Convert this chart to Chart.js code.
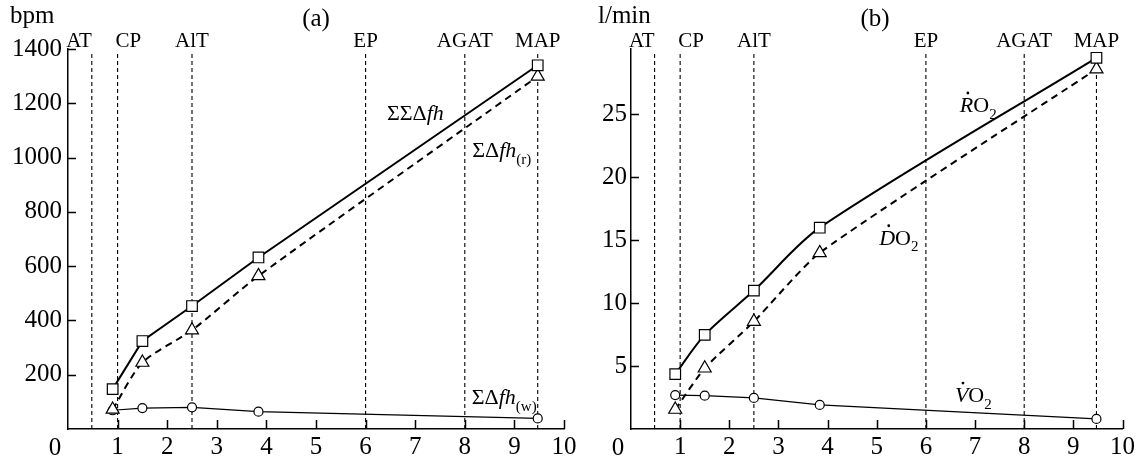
<!DOCTYPE html>
<html>
<head>
<meta charset="utf-8">
<script src="https://cdn.jsdelivr.net/npm/chart.js@4.4.1/dist/chart.umd.min.js"></script>
<style>
  body { margin: 0; background: #fff; }
  #wrap { position: relative; width: 1138px; height: 461px; overflow: hidden; }
  canvas { position: absolute; top: 0; }
  #chartA { left: 0; }
  #chartB { left: 569px; }
</style>
</head>
<body>
<div id="wrap">
  <canvas id="chartA" width="600" height="461"></canvas>
  <canvas id="chartB" width="569" height="461"></canvas>
</div>
<script>
// power steps (x) shared by both panels
const power = [0.9, 1.5, 2.5, 3.84, 9.47];

// (a) heart-beat sums, bpm
const hrTotal = [147, 324, 453, 632, 1340];
const hrRest = [72, 245, 364, 564, 1299];
const hrWork = [69, 77, 80, 64, 39];

// (b) oxygen flows, l/min
const o2Total = [4.36, 7.48, 11.0, 16.0, 29.5];
const o2Delivered = [1.55, 4.83, 8.54, 14.0, 28.6];
const o2Consumed = [2.7, 2.65, 2.47, 1.91, 0.8];

// threshold markers
const thresholds = [0.48, 1, 2.5, 6, 8, 9.47];
const thresholdNames = ["AT", "CP", "AlT", "EP", "AGAT", "MAP"];

// tick labels
const xTicks = [0, 1, 2, 3, 4, 5, 6, 7, 8, 9, 10];
const hrTicks = [200, 400, 600, 800, 1000, 1200, 1400];
const o2Ticks = [5, 10, 15, 20, 25];

const SERIF = '"Liberation Serif", "Times New Roman", serif';
Chart.defaults.font.family = SERIF;

function pts(ys) {
  return power.map((x, i) => ({ x, y: ys[i] }));
}

function series(ys, shape, radius, extra) {
  return Object.assign({
    data: pts(ys),
    borderColor: "#000",
    pointStyle: shape,
    pointRadius: radius,
    pointBackgroundColor: "#fff",
    pointBorderColor: "#000",
    pointBorderWidth: 1.2,
    fill: false
  }, extra);
}

function thresholdLines(top) {
  return thresholds.map(x => ({
    data: [{ x, y: 0 }, { x, y: top }],
    borderColor: "#000",
    borderWidth: 1.1,
    borderDash: [4, 3],
    pointRadius: 0,
    fill: false,
    order: 9
  }));
}

// rich text: upright / italic runs, subscripts, dot accents
function drawRich(ctx, x, y, parts, size) {
  let cx = x;
  parts.forEach(p => {
    const fs = p.sub ? Math.round(size * 0.68) : size;
    ctx.font = (p.it ? "italic " : "") + fs + "px " + SERIF;
    const dy = p.sub ? size * 0.3 : 0;
    ctx.fillText(p.t, cx, y + dy);
    const w = ctx.measureText(p.t).width;
    if (p.dot) {
      ctx.beginPath();
      ctx.arc(cx + w * 0.6, y - size * 0.86, 1.4, 0, Math.PI * 2);
      ctx.fill();
    }
    cx += w + (p.gap || 0);
  });
}

const inkPlugin = {
  id: "ink",
  afterDatasetsDraw(chart, args, opts) {
    const { ctx, chartArea: a, scales: { x, y } } = chart;
    ctx.save();
    ctx.strokeStyle = "#000";
    ctx.fillStyle = "#000";
    ctx.lineWidth = 1.5;

    // tick marks point into the plot
    ctx.beginPath();
    xTicks.forEach(v => {
      if (v === 0) return;
      const px = Math.round(x.getPixelForValue(v)) + 0.5;
      ctx.moveTo(px, a.bottom);
      ctx.lineTo(px, a.bottom - 9);
    });
    opts.yTicks.forEach(v => {
      const py = Math.round(y.getPixelForValue(v)) + 0.5;
      ctx.moveTo(a.left, py);
      ctx.lineTo(a.left + 8, py);
    });
    ctx.stroke();

    // threshold names above the dashed lines
    ctx.font = "21px " + SERIF;
    ctx.textBaseline = "alphabetic";
    const align = { AT: "right", CP: "left" };
    thresholds.forEach((v, i) => {
      const name = thresholdNames[i];
      const px = x.getPixelForValue(v);
      ctx.textAlign = align[name] || "center";
      const off = name === "AT" ? 0 : name === "CP" ? -2 : 0;
      ctx.fillText(name, px + off, a.top - 2);
    });

    // unit, panel letter and origin
    ctx.font = "25px " + SERIF;
    ctx.textAlign = "left";
    ctx.fillText(opts.unit, opts.unitX, 23);
    ctx.textAlign = "center";
    ctx.fillText(opts.title, opts.titleX, 26);
    ctx.fillText("0", a.left - 13, a.bottom + 26);

    // curve names
    ctx.textAlign = "left";
    opts.notes.forEach(n => {
      drawRich(ctx, x.getPixelForValue(n.x), y.getPixelForValue(n.y), n.parts, 22);
    });
    ctx.restore();
  }
};

function makeChart(id, cfg) {
  return new Chart(document.getElementById(id), {
    type: "line",
    data: { datasets: cfg.datasets.concat(thresholdLines(cfg.yMax * 0.99)) },
    options: {
      responsive: false,
      animation: false,
      events: [],
      layout: { padding: { top: 49, right: cfg.padRight, left: 0, bottom: 0 } },
      plugins: {
        legend: { display: false },
        tooltip: { enabled: false },
        ink: {
          yTicks: cfg.yTicks,
          unit: cfg.unit, unitX: cfg.unitX,
          title: cfg.title, titleX: cfg.titleX,
          notes: cfg.notes
        }
      },
      scales: {
        x: {
          type: "linear", min: 0, max: 10,
          afterBuildTicks: s => { s.ticks = xTicks.map(v => ({ value: v })); },
          afterFit: s => { s.height = 32; },
          grid: { display: false, drawTicks: false },
          border: { display: true, color: "#000", width: 1.5 },
          ticks: {
            color: "#000", padding: 3, maxRotation: 0,
            font: { family: SERIF, size: 25 },
            callback: v => (v === 0 ? "" : String(v))
          }
        },
        y: {
          type: "linear", min: 0, max: cfg.yMax,
          afterBuildTicks: s => { s.ticks = cfg.yTicks.map(v => ({ value: v })); },
          afterFit: s => { s.width = cfg.yWidth; },
          grid: { display: false, drawTicks: false },
          border: { display: true, color: "#000", width: 1.5 },
          ticks: {
            color: "#000", padding: cfg.yPad,
            font: { family: SERIF, size: 25 },
            callback: v => String(v)
          }
        }
      }
    },
    plugins: [inkPlugin]
  });
}

// (a) heart beats
makeChart("chartA", {
  yMax: 1400, yTicks: hrTicks, yWidth: 68, yPad: 6, padRight: 36,
  unit: "bpm", unitX: 10, title: "(a)", titleX: 316,
  datasets: [
    series(hrTotal, "rect", 7.5, { borderWidth: 2, tension: 0, order: 1 }),
    series(hrRest, "triangle", 7.5, { borderWidth: 2, borderDash: [7, 5], tension: 0.25, order: 2 }),
    series(hrWork, "circle", 4.5, { borderWidth: 1.2, tension: 0, order: 3 })
  ],
  notes: [
    { x: 6.43, y: 1137, parts: [{ t: "ΣΣΔ" }, { t: "fh", it: true }] },
    { x: 8.15, y: 1001, parts: [{ t: "ΣΔ" }, { t: "fh", it: true }, { t: "(r)", sub: true }] },
    { x: 8.14, y: 92, parts: [{ t: "ΣΔ" }, { t: "fh", it: true }, { t: "(w)", sub: true }] }
  ]
});

// (b) oxygen flows
makeChart("chartB", {
  yMax: 30.2, yTicks: o2Ticks, yWidth: 62, yPad: 4, padRight: 15,
  unit: "l/min", unitX: 29, title: "(b)", titleX: 306,
  datasets: [
    series(o2Total, "rect", 7.5, { borderWidth: 2, tension: 0.3, order: 1 }),
    series(o2Delivered, "triangle", 7.5, { borderWidth: 2, borderDash: [7, 5], tension: 0.2, order: 2 }),
    series(o2Consumed, "circle", 4.5, { borderWidth: 1.2, tension: 0, order: 3 })
  ],
  notes: [
    { x: 6.69, y: 25.2, parts: [{ t: "R", it: true, dot: true }, { t: "O" }, { t: "2", sub: true }] },
    { x: 5.05, y: 14.65, parts: [{ t: "D", it: true, dot: true }, { t: "O" }, { t: "2", sub: true }] },
    { x: 6.59, y: 2.15, parts: [{ t: "V", it: true, dot: true }, { t: "O" }, { t: "2", sub: true }] }
  ]
});
</script>
</body>
</html>
